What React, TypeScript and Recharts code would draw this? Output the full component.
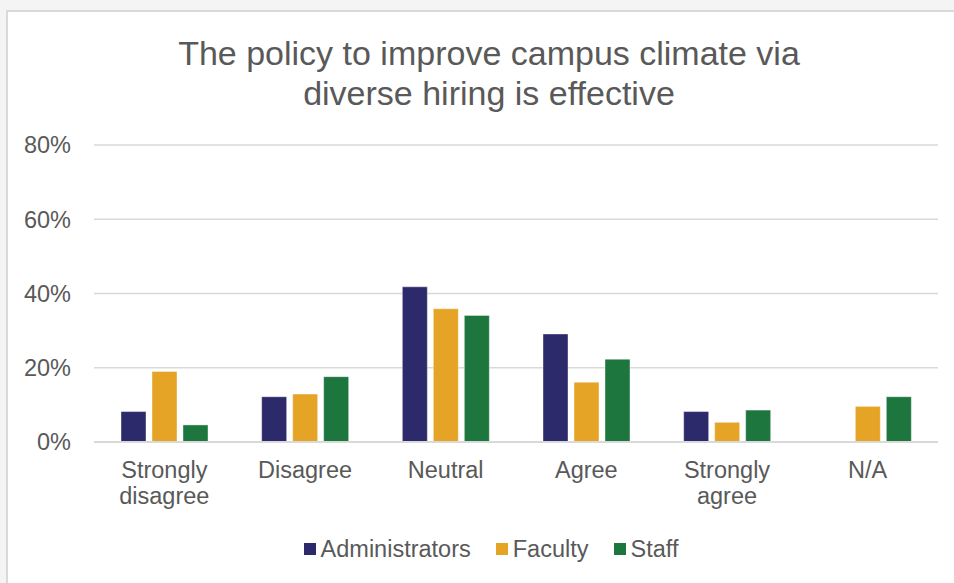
import React from "react";
import { BarChart, Bar, XAxis, YAxis, CartesianGrid } from "recharts";

const categories = ["Strongly disagree", "Disagree", "Neutral", "Agree", "Strongly agree", "N/A"];
const administrators = [8.2, 12.2, 41.8, 29.1, 8.2, 0];
const faculty = [19.0, 12.9, 35.9, 16.1, 5.3, 9.6];
const staff = [4.6, 17.6, 34.1, 22.3, 8.6, 12.2];
const yTicks = [0, 20, 40, 60, 80];
const seriesNames = ["Administrators", "Faculty", "Staff"];
const colors = ["#2D2A6B", "#E5A426", "#1D763E"];

const data = categories.map((c, i) => ({
  category: c,
  Administrators: administrators[i],
  Faculty: faculty[i],
  Staff: staff[i],
}));

const TEXT = "#595959";
const FONT = "'Liberation Sans', Arial, sans-serif";

const lineBreaks: Record<string, string[]> = {
  "Strongly disagree": ["Strongly", "disagree"],
  "Strongly agree": ["Strongly", "agree"],
};

const XTick = (props: any) => {
  const { x, y, payload } = props;
  const lines = lineBreaks[payload.value] || [payload.value];
  return (
    <text x={x} y={y} textAnchor="middle" fill={TEXT} fontSize={23.5} fontFamily={FONT}>
      {lines.map((l, i) => (
        <tspan key={i} x={x} y={y + 36 + i * 26}>
          {l}
        </tspan>
      ))}
    </text>
  );
};

export default function App() {
  return (
    <div
      style={{
        position: "absolute",
        left: 0,
        top: 0,
        width: 954,
        height: 583,
        background: "#f4f4f4",
        overflow: "hidden",
        fontFamily: FONT,
      }}
    >
      <div
        style={{
          position: "absolute",
          left: 6,
          top: 10,
          width: 1000,
          height: 700,
          background: "#ffffff",
          border: "2px solid #d9d9d9",
        }}
      />
      <div
        style={{
          position: "absolute",
          left: 0,
          top: 33,
          width: 978,
          textAlign: "center",
          color: TEXT,
          fontSize: 34,
          lineHeight: "40px",
        }}
      >
        The policy to improve campus climate via
        <br />
        diverse hiring is effective
      </div>
      <div style={{ position: "absolute", left: 0, top: 0 }}>
        <BarChart
          width={954}
          height={583}
          data={data}
          margin={{ top: 145, right: 16, bottom: 0, left: 0 }}
          barSize={25}
          barGap={6}
        >
          <CartesianGrid vertical={false} stroke="#d9d9d9" strokeWidth={1.5} />
          <XAxis
            dataKey="category"
            height={141}
            tickLine={false}
            axisLine={{ stroke: "#d9d9d9", strokeWidth: 2 }}
            tickSize={0}
            tickMargin={0}
            interval={0}
            tick={<XTick />}
          />
          <YAxis
            width={94}
            domain={[0, 80]}
            ticks={yTicks}
            tickFormatter={(v: number) => `${v}%`}
            tickLine={false}
            axisLine={false}
            tickSize={0}
            tickMargin={23}
            tick={{ fill: TEXT, fontSize: 23.5, fontFamily: FONT }}
          />
          {seriesNames.map((s, i) => (
            <Bar
              key={s}
              dataKey={s}
              fill={colors[i]}
              stroke="rgba(255,255,255,0.5)"
              strokeWidth={0.8}
              isAnimationActive={false}
            />
          ))}
        </BarChart>
      </div>
      <div
        style={{
          position: "absolute",
          left: 0,
          top: 535,
          width: 982,
          display: "flex",
          justifyContent: "center",
          alignItems: "center",
          color: TEXT,
          fontSize: 23.5,
          lineHeight: "28px",
        }}
      >
        {seriesNames.map((s, i) => (
          <div
            key={s}
            style={{
              display: "flex",
              alignItems: "center",
              marginLeft: i === 0 ? 0 : 25,
            }}
          >
            <span
              style={{
                display: "inline-block",
                width: 12,
                height: 12,
                background: colors[i],
                marginRight: 5,
              }}
            />
            <span>{s}</span>
          </div>
        ))}
      </div>
    </div>
  );
}
